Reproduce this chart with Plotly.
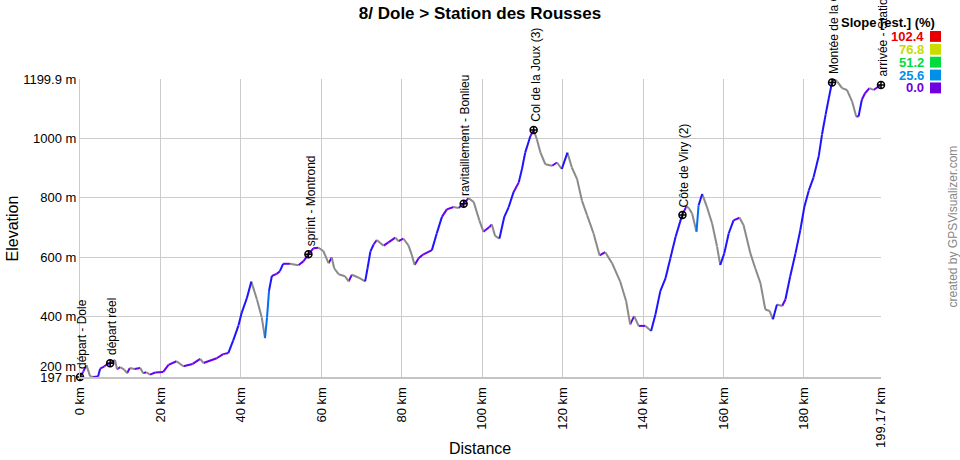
import plotly.graph_objects as go
import numpy as np

# ---------------- data ----------------
dist_km = [0, 0.8, 1.6, 2.5, 3.2, 4.5, 5.0, 6.0, 6.7, 7.5, 8.7, 9.2, 10.0, 11.0, 11.7, 12.4,
           13.5, 15.0, 15.7, 16.5, 17.4, 18.7, 20.7, 22.0, 24.0, 25.7, 28.0, 29.9, 30.7, 34.0,
           35.6, 36.9, 38.1, 39.4, 40.2, 41.5, 42.6, 44.0, 45.2, 46.0, 46.5, 47.0, 47.7, 48.9,
           49.7, 50.5, 52.2, 54.3, 55.6, 56.8, 58.0, 59.3, 60.5, 61.8, 62.6, 63.2, 64.3, 65.9,
           66.8, 67.6, 69.2, 70.9, 71.5, 72.2, 73.0, 73.8, 75.5, 76.7, 78.4, 79.2, 80.4, 81.7,
           82.5, 83.2, 84.2, 85.4, 87.5, 88.7, 90.0, 91.2, 92.9, 94.1, 95.4, 96.6, 97.9, 99.3,
           100.3, 101.8, 102.4, 103.2, 104.3, 105.5, 106.6, 107.8, 109.1, 109.9, 110.7, 112.0,
           112.8, 113.6, 114.5, 115.7, 117.4, 118.6, 119.8, 121.2, 122.3, 123.6, 124.8, 126.1,
           127.7, 129.2, 130.6, 132.3, 134.3, 135.8, 136.8, 137.8, 138.9, 140.6, 142.0, 143.1,
           144.3, 145.6, 146.8, 148.1, 149.7, 150.8, 151.4, 152.2, 153.3, 153.8, 154.7, 155.9,
           157.2, 158.4, 159.2, 160.2, 161.3, 162.5, 164.0, 165.0, 166.7, 167.9, 169.2, 170.4,
           171.5, 172.3, 173.3, 174.6, 175.4, 176.6, 177.9, 179.1, 180.1, 181.2, 182.4, 183.7,
           184.5, 185.4, 186.2, 187.0, 187.6, 188.3, 189.5, 190.7, 192.0, 193.0, 193.6, 194.4,
           195.2, 196.3, 197.3, 199.17]
elev_m = [197, 215, 237, 200, 197, 199, 225, 232, 240, 243, 254, 223, 230, 222, 210, 227,
          224, 227, 210, 213, 205, 212, 214, 238, 250, 233, 241, 258, 244, 260,
          274, 278, 320, 370, 413, 463, 518, 458, 397, 328, 397, 487, 537, 544,
          553, 578, 578, 573, 587, 610, 630, 632, 621, 580, 599, 563, 543, 536,
          519, 541, 532, 519, 563, 619, 643, 658, 639, 650, 666, 654, 663, 639,
          608, 574, 597, 610, 624, 680, 736, 761, 769, 766, 780, 799, 786, 724,
          686, 702, 710, 672, 663, 736, 769, 819, 852, 897, 952, 1008,
          1028, 997, 952, 913, 908, 919, 897, 952, 902, 863, 791, 741,
          680, 606, 617, 580, 519, 452, 374, 402, 369, 369, 352, 408,
          486, 530, 597, 669, 741, 772, 765, 747, 686, 774, 813, 769,
          713, 636, 574, 613, 680, 724, 733, 708, 613, 563, 513, 424,
          419, 391, 441, 436, 458, 536, 613, 691, 769, 824, 869, 941,
          1013, 1080, 1136, 1190, 1199.9, 1191, 1169, 1163, 1124, 1074, 1074, 1130,
          1152, 1169, 1163, 1180]

wp_km = [0, 7.5, 56.8, 95.4, 112.8, 149.8, 187.0, 199.17]
wp_ele = [197, 243, 610, 780, 1028, 742, 1188, 1180]
wp_names = ["départ - Dole", "départ réel", "sprint - Montrond", "ravitaillement - Bonlieu",
            "Col de la Joux (3)", "Côte de Viry (2)",
            "Montée de la Combe de Laisia-Les Molunes (1)", "arrivée - Station des Rousses"]

x_ticks = [0, 20, 40, 60, 80, 100, 120, 140, 160, 180, 199.17]
x_ticktext = ["0 km", "20 km", "40 km", "60 km", "80 km", "100 km", "120 km", "140 km",
              "160 km", "180 km", "199.17 km"]
y_ticks = [197, 400, 600, 800, 1000, 1199.9]
y_ticktext = ["197 m", "400 m", "600 m", "800 m", "1000 m", "1199.9 m"]
y_extra_tick = 200
y_extra_text = "200 m"

legend_vals = ["102.4", "76.8", "51.2", "25.6", "0.0"]
legend_colors = ["#e80000", "#c8dc00", "#00dc3c", "#0090e8", "#7000e0"]

# slope colour bins (% grade) for the profile line
slope_edges = [3, 12, 20, 35, 60, 1e9]
slope_colors = ["#6a00f0", "#1e14ff", "#0070f0", "#00b4e0", "#00dc3c", "#c8dc00"]
down_color = "#8a8a8a"

title = "8/ Dole > Station des Rousses"

# ---------------- layout geometry ----------------
W, H = 960, 460
L, R, T, B = 80, 79, 79, 80
PW, PH = W - L - R, H - T - B
FONT = "Liberation Sans, Arial, sans-serif"


def px_x(px):
    return (px - L) / PW


def px_y(py):
    return (H - B - py) / PH


fig = go.Figure()

# ---- profile line, split into slope-coloured pieces ----
d = np.array(dist_km, dtype=float)
e = np.array(elev_m, dtype=float)
slopes = np.diff(e) / (np.diff(d) * 1000.0) * 100.0

groups = {}
for i, s in enumerate(slopes):
    if s < 0:
        c = down_color
    else:
        c = slope_colors[-1]
        for edge, col in zip(slope_edges, slope_colors):
            if s < edge:
                c = col
                break
    gx, gy = groups.setdefault(c, ([], []))
    gx += [d[i], d[i + 1], None]
    gy += [e[i], e[i + 1], None]

for c, (gx, gy) in groups.items():
    fig.add_trace(go.Scatter(x=gx, y=gy, mode="lines", line=dict(color=c, width=2),
                             hoverinfo="skip", showlegend=False))

# ---- waypoints ----
fig.add_trace(go.Scatter(x=wp_km, y=wp_ele, mode="markers",
                         marker=dict(symbol="circle-cross-open", size=7, color="black",
                                     line=dict(width=1.5, color="black")),
                         showlegend=False, cliponaxis=False, hoverinfo="skip"))
for k, el, name in zip(wp_km, wp_ele, wp_names):
    fig.add_annotation(x=k, y=el, xref="x", yref="y", text=name, textangle=-90,
                       showarrow=False, xanchor="center", yanchor="bottom",
                       xshift=2, yshift=6,
                       font=dict(family=FONT, size=12, color="black"))

# ---- extra "200 m" label ----
fig.add_annotation(x=0, y=y_extra_tick, xref="paper", yref="y", text=y_extra_text,
                   showarrow=False, xanchor="right", yanchor="middle", xshift=-2, yshift=10,
                   font=dict(family=FONT, size=13, color="black"))

# ---- axis titles ----
fig.add_annotation(x=px_x(12), y=px_y(230), xref="paper", yref="paper", text="Elevation",
                   textangle=-90, showarrow=False, xanchor="center", yanchor="middle",
                   font=dict(family=FONT, size=16, color="black"))
fig.add_annotation(x=px_x(480), y=px_y(452), xref="paper", yref="paper", text="Distance",
                   showarrow=False, xanchor="center", yanchor="middle",
                   font=dict(family=FONT, size=16, color="black"))

# ---- credit ----
fig.add_annotation(x=px_x(953), y=px_y(228), xref="paper", yref="paper",
                   text="created by GPSVisualizer.com", textangle=-90, showarrow=False,
                   xanchor="center", yanchor="middle",
                   font=dict(family=FONT, size=12, color="#888888"))

# ---- slope legend ----
fig.add_annotation(x=px_x(937), y=px_y(22), xref="paper", yref="paper",
                   text="<b>Slope [est.] (%)</b>", showarrow=False,
                   xanchor="right", yanchor="middle",
                   font=dict(family=FONT, size=13, color="black"))
for i, (v, c) in enumerate(zip(legend_vals, legend_colors)):
    yc = 36 + i * 13
    fig.add_annotation(x=px_x(926), y=px_y(yc), xref="paper", yref="paper",
                       text="<b>" + v + "</b>", showarrow=False,
                       xanchor="right", yanchor="middle",
                       font=dict(family=FONT, size=13, color=c))
    fig.add_shape(type="rect", xref="paper", yref="paper",
                  x0=px_x(930), x1=px_x(941), y0=px_y(yc + 5.5), y1=px_y(yc - 5.5),
                  fillcolor=c, line=dict(width=0))

fig.update_layout(
    width=W, height=H,
    margin=dict(l=L, r=R, t=T, b=B, pad=0),
    paper_bgcolor="white", plot_bgcolor="white",
    title=dict(text=title, x=0.5, xref="container", xanchor="center",
               y=1 - 13 / H, yref="container", yanchor="middle",
               font=dict(family=FONT, size=17, color="black", weight="bold")),
    font=dict(family=FONT, size=13, color="black"),
    xaxis=dict(range=[0, 199.17], tickvals=x_ticks, ticktext=x_ticktext, tickangle=-90,
               showgrid=True, gridcolor="#cccccc", gridwidth=1, zeroline=False,
               showline=True, linecolor="#c4c4c4", linewidth=2, ticks="",
               ticklabelstandoff=3, tickfont=dict(family=FONT, size=13, color="black")),
    yaxis=dict(range=[197, 1199.9], tickvals=y_ticks, ticktext=y_ticktext,
               showgrid=True, gridcolor="#cccccc", gridwidth=1, zeroline=False,
               showline=True, linecolor="#cccccc", linewidth=1, ticks="",
               ticklabelstandoff=0, tickfont=dict(family=FONT, size=13, color="black")),
)

fig.write_html("out.html", config={"displayModeBar": False},
               post_script="document.body.style.margin='0';")
